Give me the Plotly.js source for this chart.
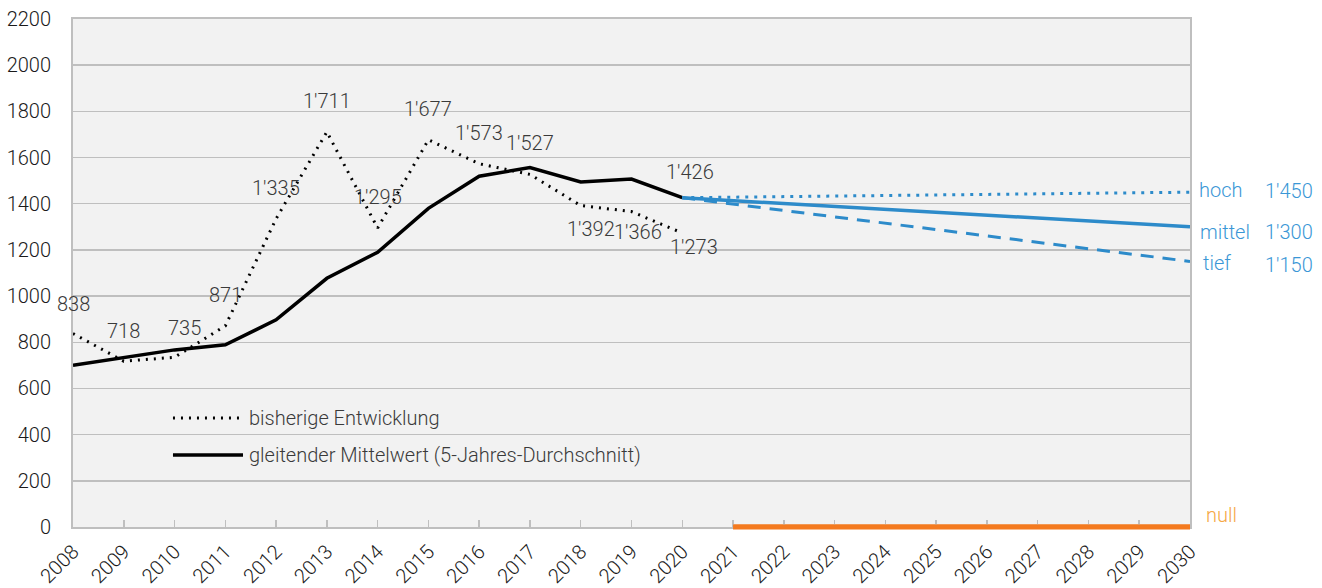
<!DOCTYPE html>
<html>
<head>
<meta charset="utf-8">
<script src="https://cdn.plot.ly/plotly-3.0.1.min.js"></script>
<style>html,body{margin:0;padding:0;background:#fff;}#chart{width:1322px;height:588px;}</style>
</head>
<body>
<div id="chart"></div>
<script>
// ---- data ----
const years = [2008,2009,2010,2011,2012,2013,2014,2015,2016,2017,2018,2019,2020];
const actual = [838,718,735,871,1335,1711,1295,1677,1573,1527,1392,1366,1273];
const actualLabels = ["838","718","735","871","1'335","1'711","1'295","1'677","1'573","1'527","1'392","1'366","1'273"];
const movingAvg = [700,735,767,789,897,1077,1190,1380,1519,1557,1494,1507,1426];
const projYears = [2020,2030];
const hoch = [1426,1450];
const mittel = [1426,1300];
const tief = [1426,1150];
const nullYears = [2021,2030];
const nullVals = [0,0];
const scenarioNames = ["hoch","mittel","tief","null"];
const scenarioLabels = ["1'450","1'300","1'150",""];
const scenarioEnds = [1450,1300,1150,0];
const yTicks = [0,200,400,600,800,1000,1200,1400,1600,1800,2000,2200];
const xTicks = [2008,2009,2010,2011,2012,2013,2014,2015,2016,2017,2018,2019,2020,2021,2022,2023,2024,2025,2026,2027,2028,2029,2030];

// ---- styles ----
const FONT = "Roboto, 'Open Sans', sans-serif";
const TXT = "#3a3a3a";
const BLUE = "#2d8bca";
const BLUE_T = "#3a97d6";
const ORANGE = "#f47a1f";
const ORANGE_T = "#f5a845";
const FS = 20;
// label offsets (pixels) for actual series labels
const labXShift = [0,0,10,0,0,0,0,0,0,0,10,6,12];
const labYShift = [30,30,29,31,31,31,31,31,31,31,-23,-20,-14];

const traces = [
  {x: years, y: actual, mode: 'lines', line: {color: '#000', width: 3, dash: '2px,6px'}, name: 'bisherige Entwicklung', showlegend: false, hoverinfo: 'skip'},
  {x: years, y: movingAvg, mode: 'lines', line: {color: '#000', width: 3.5}, name: 'gleitender Mittelwert (5-Jahres-Durchschnitt)', showlegend: false, hoverinfo: 'skip'},
  {x: projYears, y: hoch, mode: 'lines', line: {color: BLUE, width: 3, dash: '3px,6px'}, showlegend: false, hoverinfo: 'skip'},
  {x: projYears, y: mittel, mode: 'lines', line: {color: BLUE, width: 3.5}, showlegend: false, hoverinfo: 'skip'},
  {x: projYears, y: tief, mode: 'lines', line: {color: BLUE, width: 3, dash: '13px,9px'}, showlegend: false, hoverinfo: 'skip'},
  {x: nullYears, y: nullVals, mode: 'lines', line: {color: ORANGE, width: 5}, showlegend: false, hoverinfo: 'skip'}
];

const annotations = [];
years.forEach((yr, i) => {
  annotations.push({x: yr, y: actual[i], xref: 'x', yref: 'y', text: actualLabels[i], showarrow: false,
    xshift: labXShift[i], yshift: labYShift[i], font: {family: FONT, size: FS, color: TXT, weight: 300}});
});
annotations.push({x: years[years.length-1], y: movingAvg[movingAvg.length-1], xref: 'x', yref: 'y', text: "1'426",
  showarrow: false, xshift: 8, yshift: 26, font: {family: FONT, size: FS, color: TXT, weight: 300}});

const nameShift = [7, 8, 11, 14];
const nameDy = [2, -5, -2, 12];
scenarioNames.forEach((nm, i) => {
  const col = i === 3 ? ORANGE_T : BLUE_T;
  annotations.push({x: 2030, y: scenarioEnds[i], xref: 'x', yref: 'y', text: nm, showarrow: false, xanchor: 'left',
    xshift: nameShift[i], yshift: nameDy[i], font: {family: FONT, size: FS, color: col, weight: 300}});
  if (scenarioLabels[i]) {
    annotations.push({x: 2030, y: scenarioEnds[i], xref: 'x', yref: 'y', text: scenarioLabels[i], showarrow: false, xanchor: 'left',
      xshift: 73, yshift: i === 2 ? -4 : (i === 1 ? -5 : 1), font: {family: FONT, size: FS, color: col, weight: 300}});
  }
});

// legend (custom)
const legendItems = [
  {text: 'bisherige Entwicklung', y: 0.2146, dash: '2px,6px', width: 3},
  {text: 'gleitender Mittelwert (5-Jahres-Durchschnitt)', y: 0.1417, dash: 'solid', width: 3.5}
];
const shapes = [];
legendItems.forEach(it => {
  shapes.push({type: 'line', xref: 'paper', yref: 'paper', x0: 0.0895, x1: 0.1522, y0: it.y, y1: it.y,
    line: {color: '#000', width: it.width, dash: it.dash}});
  annotations.push({xref: 'paper', yref: 'paper', x: 0.156, y: it.y, xanchor: 'left', yanchor: 'middle', text: it.text,
    showarrow: false, font: {family: FONT, size: FS, color: TXT, weight: 300}});
});
// null scenario line drawn over the axis line (same data, not clipped vertically)
shapes.push({type: 'line', xref: 'x', yref: 'paper', x0: nullYears[0], x1: nullYears[1], y0: 0, y1: 0,
  layer: 'above', line: {color: ORANGE, width: 5}});

const layout = {
  width: 1322, height: 588,
  margin: {l: 73, r: 132, t: 19, b: 61},
  paper_bgcolor: '#ffffff',
  plot_bgcolor: '#f2f2f2',
  font: {family: FONT, size: FS, color: TXT, weight: 300},
  showlegend: false,
  xaxis: {
    range: [2008, 2030], tickmode: 'array', tickvals: xTicks, ticktext: xTicks.map(String),
    tickangle: -45, showgrid: false, zeroline: false,
    showline: true, linecolor: '#bfbfbf', linewidth: 2, mirror: true,
    ticks: 'inside', ticklen: 7, tickcolor: '#bfbfbf', tickwidth: 1.5,
    tickfont: {family: FONT, size: 20, color: '#1a1a1a', weight: 300},
    ticklabelstandoff: 3,
    fixedrange: true
  },
  yaxis: {
    range: [0, 2200], tickmode: 'array', tickvals: yTicks, ticktext: yTicks.map(String),
    showgrid: true, gridcolor: '#bfbfbf', gridwidth: 1.5, zeroline: false,
    showline: true, linecolor: '#bfbfbf', linewidth: 2, mirror: true,
    ticks: '', ticklabelstandoff: 16,
    tickfont: {family: FONT, size: FS, color: '#1a1a1a', weight: 300},
    fixedrange: true
  },
  annotations: annotations,
  shapes: shapes
};

Plotly.newPlot('chart', traces, layout, {displayModeBar: false, staticPlot: true});
</script>
</body>
</html>
